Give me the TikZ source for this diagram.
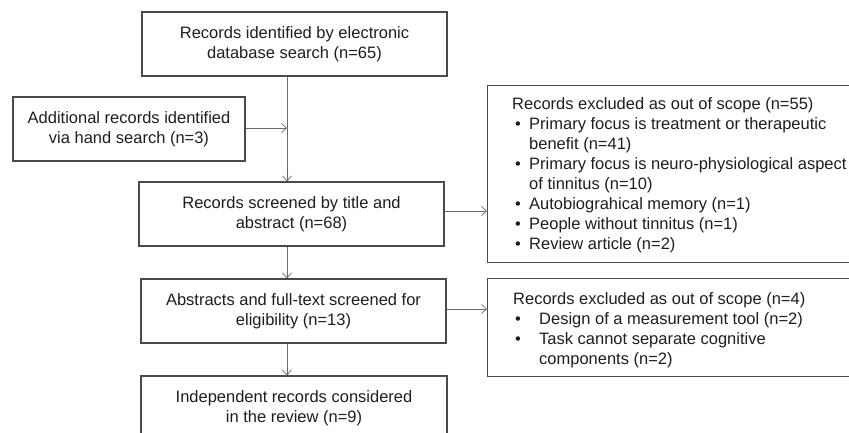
\documentclass[tikz,border=0pt]{standalone}
\usepackage{fontspec}
\setmainfont{Liberation Sans}
\usetikzlibrary{arrows.meta}
\definecolor{txt}{HTML}{1E1E1E}
\definecolor{bord}{HTML}{4A4A4A}
\definecolor{arr}{HTML}{6A6A6A}
\begin{document}
\begin{tikzpicture}[x=1pt,y=-1pt,
  box/.style={draw=bord, line width=1.1pt, rectangle, inner sep=0pt, minimum height=64pt,
    align=center, font=\fontsize{16.5}{20}\selectfont, text=txt,
    execute at begin node={\rule{0pt}{17pt}}},
  exbox/.style={draw=bord, line width=1.1pt, rectangle, inner sep=0pt, anchor=north west, minimum width=390pt},
  tx/.style={anchor=base west, inner sep=0pt, font=\fontsize{16.5}{20}\selectfont, text=txt},
  arrow/.style={draw=arr, line width=0.7pt, -{Straight Barb[length=5pt,width=9pt]}}]
\useasboundingbox (0,0) rectangle (849,432);
\clip (0,0) rectangle (849,432);
\coordinate (vx) at (287,0);
% main flow
\node[box, minimum width=305pt] (top) at (294.5,44) {Records identified by electronic\\database search (n=65)};
\node[box, minimum width=232pt] (hand) at (129,129) {Additional records identified\\via hand search (n=3)};
\node[box, minimum width=305pt] (scr) at (291.5,214) {Records screened by title and\\abstract (n=68)};
\node[box, minimum width=305pt] (abs) at (293.5,311) {Abstracts and full-text screened for\\eligibility (n=13)};
\node[box, minimum width=306pt] (ind) at (294,408) {Independent records considered\\in the review (n=9)};
% exclusion boxes
\node[exbox, minimum height=177pt] (ex1) at (487,85) {};
\node[exbox, minimum height=98pt] (ex2) at (487,278) {};
% ex1 text
\node[tx] (e1h) at (512,109) {Records excluded as out of scope (n=55)};
\node[tx] (e1b1) at (515,129) {•};
\node[tx] (e1a) at (529,129) {Primary focus is treatment or therapeutic};
\node[tx] (e1a2) at (529,149) {benefit (n=41)};
\node[tx] (e1b2) at (515,169) {•};
\node[tx] (e1c) at (529,169) {Primary focus is neuro-physiological aspect};
\node[tx] (e1c2) at (529,189) {of tinnitus (n=10)};
\node[tx] (e1b3) at (515,209) {•};
\node[tx] (e1d) at (529,209) {Autobiograhical memory (n=1)};
\node[tx] (e1b4) at (515,229) {•};
\node[tx] (e1e) at (529,229) {People without tinnitus (n=1)};
\node[tx] (e1b5) at (515,249) {•};
\node[tx] (e1f) at (529,249) {Review article (n=2)};
% ex2 text
\node[tx] (e2h) at (513,304) {Records excluded as out of scope (n=4)};
\node[tx] (e2b1) at (515,324) {•};
\node[tx] (e2a) at (539,324) {Design of a measurement tool (n=2)};
\node[tx] (e2b2) at (515,344) {•};
\node[tx] (e2c) at (539,344) {Task cannot separate cognitive};
\node[tx] (e2c2) at (539,364) {components (n=2)};
% connectors
\draw[arrow] (top.south -| vx) -- (scr.north -| vx);
\draw[arrow] ([yshift=1pt]hand.east) -- ([yshift=1pt]hand.east -| vx);
\draw[arrow] ([yshift=3pt]scr.east) -- ([yshift=3pt]scr.east -| ex1.west);
\draw[arrow] (scr.south -| vx) -- (abs.north -| vx);
\draw[arrow] ([yshift=2pt]abs.east) -- ([yshift=2pt]abs.east -| ex2.west);
\draw[arrow] (abs.south -| vx) -- (ind.north -| vx);
\end{tikzpicture}
\end{document}
